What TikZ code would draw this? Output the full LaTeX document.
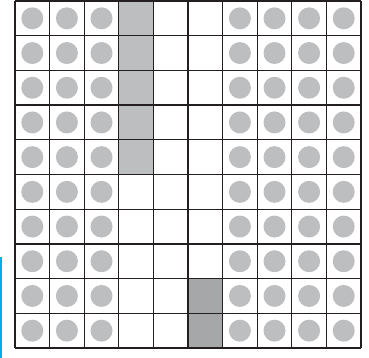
\documentclass[tikz,border=0pt]{standalone}
\definecolor{gridline}{HTML}{231F20}
\definecolor{dotgray}{HTML}{BDBEC0}
\definecolor{lightfill}{HTML}{BDBEC0}
\definecolor{darkfill}{HTML}{A6A7A9}
\definecolor{cyanline}{HTML}{00AEEF}
\tikzset{
  gridpen/.style={draw=gridline, line width=1.3pt},
  dot/.style={fill=dotgray},
  lightcell/.style={fill=lightfill},
  darkcell/.style={fill=darkfill},
}
\begin{document}
\begin{tikzpicture}[x=1pt,y=1pt]
\useasboundingbox (0,0) rectangle (369,358);
\def\cw{34.6}
\def\chh{34.7}
% shaded cells
\foreach \r in {0,...,4}{
  \fill[lightcell] (15+3*\cw,357-\r*\chh) rectangle (15+4*\cw,357-\r*\chh-\chh);
}
\foreach \r in {8,9}{
  \fill[darkcell] (15+5*\cw,357-\r*\chh) rectangle (15+6*\cw,357-\r*\chh-\chh);
}
% dots
\foreach \c in {0,1,2,6,7,8,9}{
  \foreach \r in {0,...,9}{
    \fill[dot] (15+\c*\cw+0.5*\cw,357-\r*\chh-0.5*\chh) circle (11);
  }
}
% grid
\foreach \c in {0,...,10}{
  \draw[gridpen] (15+\c*\cw,357) -- (15+\c*\cw,357-10*\chh);
}
\foreach \r in {0,...,10}{
  \draw[gridpen] (15,357-\r*\chh) -- (15+10*\cw,357-\r*\chh);
}
% cyan mark at left
\draw[cyanline, line width=1.2pt] (1,101) -- (1,0);
\end{tikzpicture}
\end{document}
